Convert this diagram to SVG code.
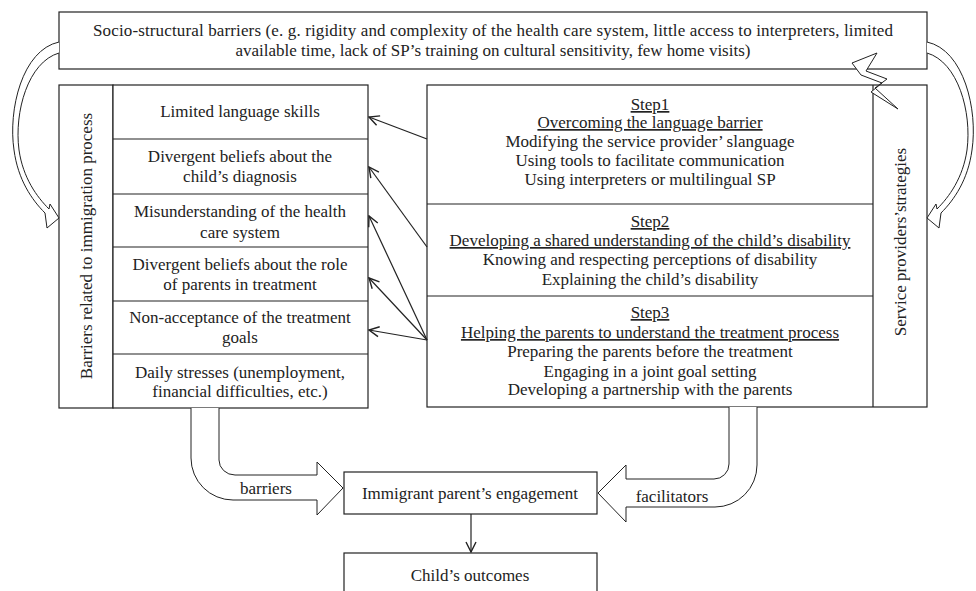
<svg xmlns="http://www.w3.org/2000/svg" width="976" height="591" viewBox="0 0 976 591">
<defs>
<style>
.box{fill:#fff;stroke:#222;stroke-width:1.2}
.ln{fill:none;stroke:#222;stroke-width:1.2}
.blk{fill:#fff;stroke:#222;stroke-width:1}
text{font-family:"Liberation Serif","Times New Roman",serif;font-size:17px;fill:#222}
.c{text-anchor:middle}
.u{text-decoration:underline}
</style>
<marker id="ah" viewBox="0 0 12 12" refX="11" refY="6" markerWidth="12" markerHeight="12" markerUnits="userSpaceOnUse" orient="auto">
<path d="M1,1 L11,6 L1,11" fill="none" stroke="#222" stroke-width="1.4"/>
</marker>
</defs>
<rect width="976" height="591" fill="#fff"/>

<g id="socio">
<rect class="box" x="59" y="12" width="868" height="57"/>
<text class="c" x="493" y="36" textLength="800" lengthAdjust="spacing">Socio-structural barriers (e. g. rigidity and complexity of the health care system, little access to interpreters, limited</text>
<text class="c" x="493" y="56">available time, lack of SP’s training on cultural sensitivity, few home visits)</text>
</g>

<g id="barriers-col">
<rect class="box" x="59" y="85" width="54" height="323"/>
<text class="c" transform="translate(92,246) rotate(-90)">Barriers related to immigration process</text>
</g>

<g id="barrier-items">
<rect class="box" x="113" y="85" width="255" height="323"/>
<path class="ln" d="M113,139H368M113,194H368M113,247H368M113,301H368M113,354H368"/>
<text class="c" x="240" y="117">Limited language skills</text>
<text class="c" x="240" y="162">Divergent beliefs about the</text>
<text class="c" x="240" y="182">child’s diagnosis</text>
<text class="c" x="240" y="217">Misunderstanding of the health</text>
<text class="c" x="240" y="238">care system</text>
<text class="c" x="240" y="270">Divergent beliefs about the role</text>
<text class="c" x="240" y="290">of parents in treatment</text>
<text class="c" x="240" y="323">Non-acceptance of the treatment</text>
<text class="c" x="240" y="343">goals</text>
<text class="c" x="240" y="378">Daily stresses (unemployment,</text>
<text class="c" x="240" y="397">financial difficulties, etc.)</text>
</g>

<g id="strategies">
<rect class="box" x="427" y="85" width="500" height="322"/>
<path class="ln" d="M873,85V407M427,204H873M427,296H873"/>
<text class="c" transform="translate(906,242) rotate(-90)">Service providers’strategies</text>
<text class="c u" x="650" y="110">Step1</text>
<text class="c u" x="650" y="128">Overcoming the language barrier</text>
<text class="c" x="650" y="147">Modifying the service provider’ slanguage</text>
<text class="c" x="650" y="166">Using tools to facilitate communication</text>
<text class="c" x="650" y="185">Using interpreters or multilingual SP</text>
<text class="c u" x="650" y="227">Step2</text>
<text class="c u" x="650" y="246">Developing a shared understanding of the child’s disability</text>
<text class="c" x="650" y="265">Knowing and respecting perceptions of disability</text>
<text class="c" x="650" y="285">Explaining the child’s disability</text>
<text class="c u" x="650" y="318">Step3</text>
<text class="c u" x="650" y="338">Helping the parents to understand the treatment process</text>
<text class="c" x="650" y="357">Preparing the parents before the treatment</text>
<text class="c" x="650" y="377">Engaging in a joint goal setting</text>
<text class="c" x="650" y="395">Developing a partnership with the parents</text>
</g>

<g id="engagement">
<rect class="box" x="344" y="472" width="253" height="42"/>
<text class="c" x="470" y="499">Immigrant parent’s engagement</text>
</g>

<g id="outcomes">
<rect class="box" x="344" y="553" width="253" height="60"/>
<text class="c" x="470" y="581">Child’s outcomes</text>
</g>

<g id="connectors">
<path class="blk" d="M59,42 C22,50 8,110 14,150 C18,180 32,200 45,213 L47,228 L59,218 L50,204 L49,209 C37,197 23,178 19,150 C14,112 28,62 59,53"/>
<path class="blk" d="M927,42 C964,50 978,110 972,150 C968,180 954,200 941,213 L939,228 L927,218 L936,204 L937,209 C949,197 963,178 967,150 C972,112 958,62 927,53"/>
<path class="blk" d="M852,63 L877,53 L866,71 L887,79 L875,88 L898,109 L871,92 L882,83 L861,75 Z"/>
<line class="ln" x1="427" y1="139" x2="369" y2="117" marker-end="url(#ah)"/>
<line class="ln" x1="427" y1="247" x2="369" y2="167" marker-end="url(#ah)"/>
<line class="ln" x1="427" y1="340" x2="369" y2="216" marker-end="url(#ah)"/>
<line class="ln" x1="427" y1="340" x2="369" y2="278" marker-end="url(#ah)"/>
<line class="ln" x1="427" y1="340" x2="369" y2="330" marker-end="url(#ah)"/>
<line class="ln" x1="471" y1="514" x2="471" y2="552" marker-end="url(#ah)"/>
<path class="blk" d="M191,408 V458 A42,42 0 0 0 233,500 H317 V515 L343,488 L317,462 V475 H235 A16,15 0 0 1 219,460 V408"/>
<path class="blk" d="M729,407 V464 A15,15 0 0 1 714,479 H626 V465 L598,493 L626,522 V507 H715 A42,42 0 0 0 757,465 V407"/>
<text class="c" x="266" y="494">barriers</text>
<text class="c" x="672" y="502">facilitators</text>
</g>
</svg>
